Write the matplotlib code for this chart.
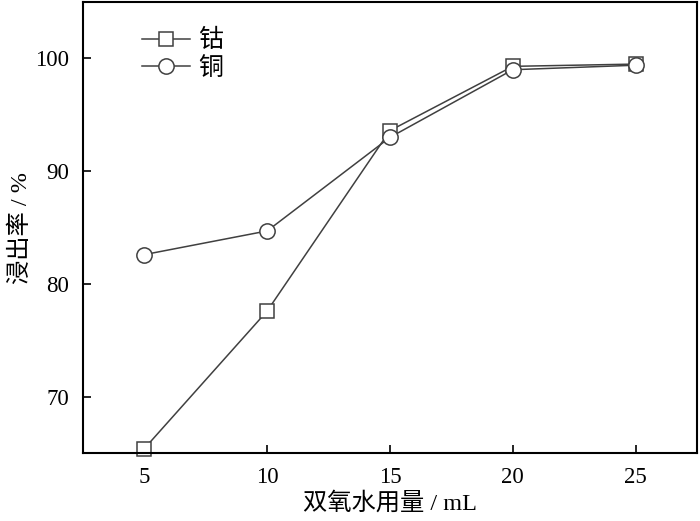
import matplotlib.pyplot as plt

plt.rcParams['font.family'] = ['Liberation Serif', 'Noto Sans CJK SC']

# 双氧水用量 (mL) vs 浸出率 (%)
h2o2_ml = [5, 10, 15, 20, 25]
cobalt = [65.4, 77.6, 93.6, 99.3, 99.5]
copper = [82.6, 84.7, 93.0, 99.0, 99.4]
x_ticks = [5, 10, 15, 20, 25]
y_ticks = [70, 80, 90, 100]

fig = plt.figure(figsize=(7, 5.21), dpi=100)
ax = fig.add_axes([0.1186, 0.1305, 0.877, 0.8655])

ax.plot(h2o2_ml, cobalt, color='#404040', lw=1.1, marker='s', ms=10,
        mfc='white', mec='#404040', mew=1.1, label='钴', clip_on=False)
ax.plot(h2o2_ml, copper, color='#404040', lw=1.1, marker='o', ms=11,
        mfc='white', mec='#404040', mew=1.1, label='铜', clip_on=False)

ax.set_xlim(2.5, 27.5)
ax.set_ylim(65, 105)
ax.set_xticks(x_ticks)
ax.set_yticks(y_ticks)
ax.tick_params(direction='in', length=6, width=1.2, labelsize=16.5, pad=10)
for s in ax.spines.values():
    s.set_linewidth(1.5)

ax.set_xlabel('双氧水用量 / mL', fontsize=17.5, labelpad=3)
ax.set_ylabel('浸出率 / %', fontsize=17.5, labelpad=2)

ax.legend(loc='upper left', bbox_to_anchor=(0.06, 0.99), frameon=False,
          fontsize=18, handlelength=1.9, handletextpad=0.35, labelspacing=0.2)

fig.savefig('out.png', dpi=100)
